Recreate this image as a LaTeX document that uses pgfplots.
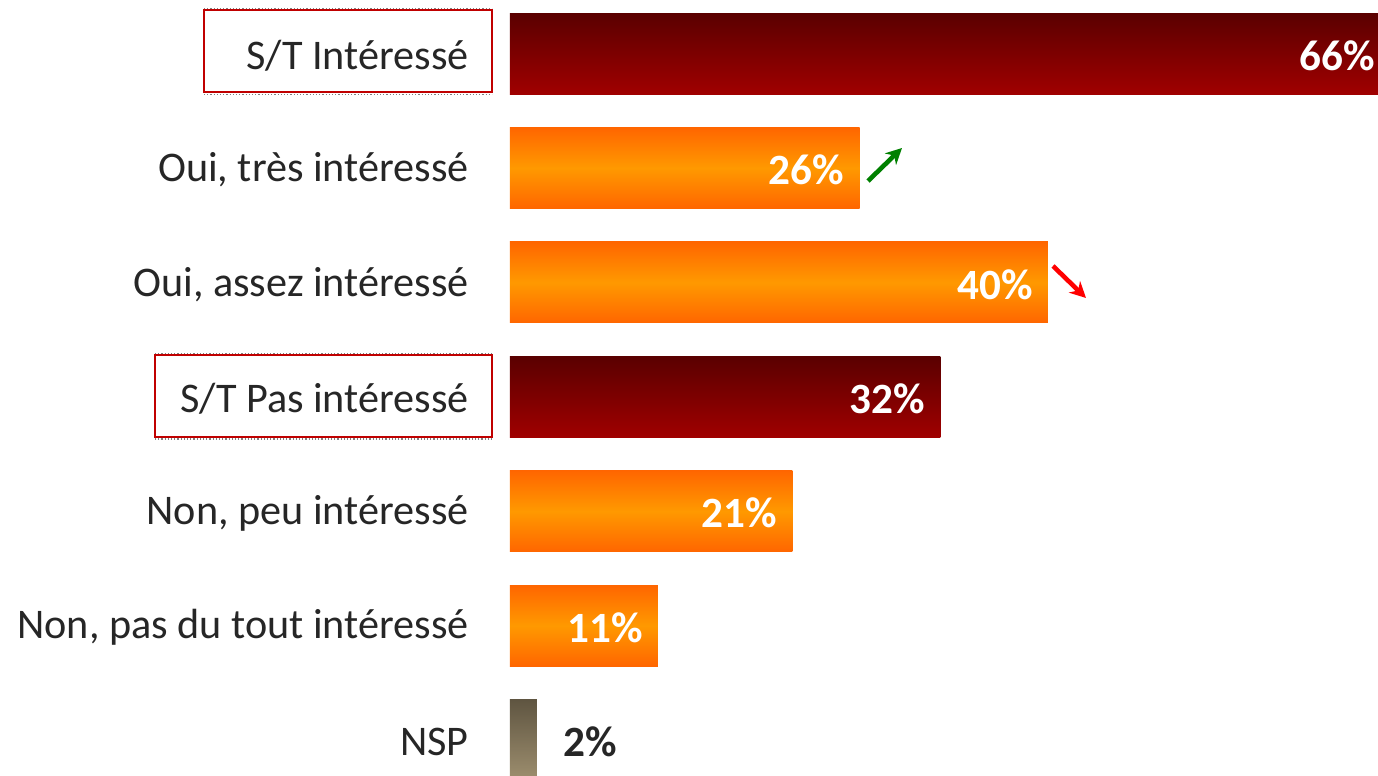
\documentclass[border=0pt]{standalone}
\usepackage{pgfplots}
\pgfplotsset{compat=1.18}
\usetikzlibrary{arrows.meta}
\usepackage{fontspec}
\setmainfont{Carlito}
\definecolor{drTop}{HTML}{5A0000}
\definecolor{drBot}{HTML}{A00000}
\definecolor{orEdge}{HTML}{FF6600}
\definecolor{orMid}{HTML}{FF9900}
\definecolor{nsTop}{HTML}{5F5541}
\definecolor{nsBot}{HTML}{9E8F6F}
\definecolor{txt}{HTML}{262626}
\definecolor{boxred}{HTML}{C00000}
\tikzset{valfont/.style={font=\bfseries\fontsize{21.6}{21.6}\selectfont}}
\pgfplotsset{
  darkbar/.style={draw=none, top color=drTop, bottom color=drBot,
    nodes near coords style={anchor=east, xshift=-7.5pt, yshift=-1pt, inner sep=0pt, valfont, text=white}},
  orbar/.style={draw=none, top color=orEdge, bottom color=orEdge, middle color=orMid,
    nodes near coords style={anchor=east, xshift=-7.5pt, yshift=-1pt, inner sep=0pt, valfont, text=white}},
  nsbar/.style={draw=none, top color=nsTop, bottom color=nsBot,
    nodes near coords style={anchor=west, xshift=13pt, yshift=-1pt, inner sep=0pt, valfont, text=txt}},
}
\begin{document}
\begin{tikzpicture}
\begin{axis}[
  at={(255pt,-10.6pt)}, anchor=south west,
  scale only axis, width=434pt, height=400.4pt,
  xmin=0, xmax=64.54, ymin=0.5, ymax=7.5, y dir=reverse,
  hide x axis,
  y axis line style={draw=none},
  major tick length=0pt,
  ytick={1,2,3,4,5,6,7},
  yticklabels={{S/T Intéressé},{Oui, très intéressé},{Oui, assez intéressé},{S/T Pas intéressé},{Non, peu intéressé},{Non, pas du tout intéressé},{NSP}},
  yticklabel style={anchor=east, inner sep=0pt, xshift=-20.5pt, yshift=-1pt, font=\fontsize{21.1}{21.1}\selectfont, text=txt},
  clip=false,
  xbar, bar width=40.5pt, bar shift=0pt,
  point meta=x,
  /pgf/number format/assume math mode=true,
  nodes near coords={\pgfmathprintnumber{\pgfplotspointmeta}\%},
]
\addplot[darkbar, nodes near coords style={xshift=-3.5pt}] coordinates {(66,1)};
\addplot[orbar] coordinates {(26,2)};
\addplot[orbar] coordinates {(40,3)};
\addplot[darkbar] coordinates {(32,4)};
\addplot[orbar] coordinates {(21,5)};
\addplot[orbar] coordinates {(11,6)};
\addplot[nsbar] coordinates {(2,7)};
\end{axis}
% framed category labels
\draw[gray, densely dotted, line width=0.6pt] (102pt,383.8pt) -- (246pt,383.8pt);
\draw[gray, densely dotted, line width=0.6pt] (102pt,340.8pt) -- (246pt,340.8pt);
\draw[boxred, line width=1.1pt] (102pt,383pt) rectangle (246pt,342pt);
\draw[gray, densely dotted, line width=0.6pt] (77.5pt,211.3pt) -- (246pt,211.3pt);
\draw[gray, densely dotted, line width=0.6pt] (77.5pt,168.5pt) -- (246pt,168.5pt);
\draw[boxred, line width=1.1pt] (77.5pt,210.5pt) rectangle (246pt,169.5pt);
% trend arrows
\draw[-{Stealth[length=8pt,width=8pt]}, color=green!50!black, line width=2.3pt] (434pt,297.5pt) -- (451pt,314pt);
\draw[-{Stealth[length=8pt,width=8pt]}, color=red, line width=2.3pt] (526.5pt,255pt) -- (543pt,239pt);
\pgfresetboundingbox
\useasboundingbox (0,0) rectangle (689pt,388pt);
\end{tikzpicture}
\end{document}
